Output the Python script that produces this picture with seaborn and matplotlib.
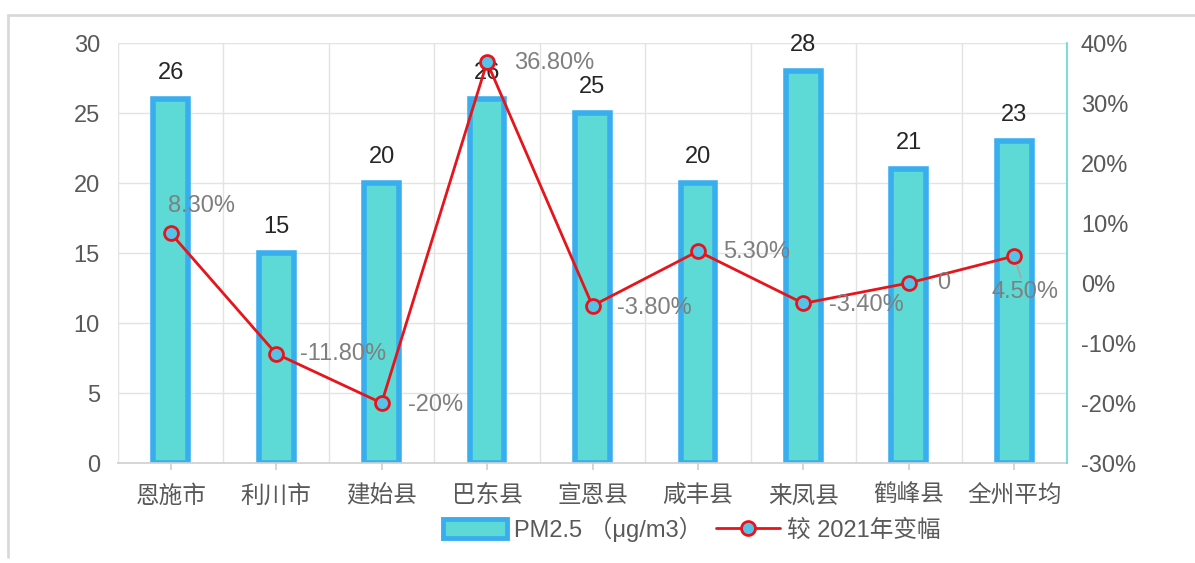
import numpy as np
import pandas as pd
import matplotlib
matplotlib.use("Agg")
import matplotlib.pyplot as plt
import seaborn as sns
from matplotlib.patches import Patch
from matplotlib.lines import Line2D

categories = ["恩施市", "利川市", "建始县", "巴东县", "宣恩县", "咸丰县", "来凤县", "鹤峰县", "全州平均"]
pm25 = [26, 15, 20, 26, 25, 20, 28, 21, 23]
change = [8.3, -11.8, -20, 36.8, -3.8, 5.3, -3.4, 0, 4.5]
change_labels = ["8.30%", "-11.80%", "-20%", "36.80%", "-3.80%", "5.30%", "-3.40%", "0", "4.50%"]
left_ticks = [0, 5, 10, 15, 20, 25, 30]
right_ticks = [-30, -20, -10, 0, 10, 20, 30, 40]

sns.set_theme(style="white")
plt.rcParams['font.family'] = ['Liberation Sans', 'Noto Sans CJK SC', 'DejaVu Sans']

FS = 17
fig = plt.figure(figsize=(11.95, 5.63), dpi=100)
ax = fig.add_axes([118/1195, 1-463/563, (1067-118)/1195, (463-43)/563])

df = pd.DataFrame({"cat": categories, "pm": pm25})
sns.barplot(data=df, x="cat", y="pm", ax=ax, color="#5DD9D6", edgecolor="#39AEEF",
            linewidth=4, width=0.33, saturation=1)
ax.set_ylim(0, 30)
ax.set_xlim(-0.5, len(categories) - 0.5)
ax.set_yticks(left_ticks)
ax.set_xlabel("")
ax.set_ylabel("")
for i, v in enumerate(pm25):
    ax.text(i, v + 1.1, str(v), ha="center", va="bottom", fontsize=FS, color="#262626")

# grid
ax.set_axisbelow(True)
for y in left_ticks[1:]:
    ax.axhline(y, color="#E3E3E3", lw=1, zorder=0)
for x in np.arange(-0.5, len(categories) + 0.5, 1):
    ax.axvline(x, color="#E3E3E3", lw=1, zorder=0)

for s in ["top", "right", "left"]:
    ax.spines[s].set_visible(False)
ax.spines["bottom"].set_color("#D0D0D0")
ax.tick_params(axis="x", length=5, color="#D0D0D0", labelsize=FS, labelcolor="#595959", pad=11, bottom=True)
ax.tick_params(axis="y", length=0, labelsize=FS, labelcolor="#595959", pad=13)

ax2 = ax.twinx()
sns.lineplot(x=np.arange(len(change)), y=change, ax=ax2, color="#E8141B", lw=2,
             marker="o", markersize=10, markerfacecolor="#55C3E8", markeredgecolor="#E8141B",
             markeredgewidth=2)
ax2.set_ylim(-30, 40)
ax2.set_yticks(right_ticks)
ax2.set_yticklabels([f"{t}%" for t in right_ticks])
ax2.tick_params(axis="y", length=0, labelsize=FS, labelcolor="#595959", pad=10)
for s in ["top", "left", "bottom"]:
    ax2.spines[s].set_visible(False)
ax2.spines["right"].set_color("#5DD9D6")
ax2.spines["right"].set_linewidth(1.2)
ax2.grid(False)

offsets = [(-3, 27, "left"), (24, 0, "left"), (26, -2, "left"), (27, -1, "left"),
           (25, -2, "left"), (25, -1, "left"), (26, -2, "left"), (28, 0, "left"), (11, -36, "center")]
for i, (v, lab) in enumerate(zip(change, change_labels)):
    dx, dy, ha = offsets[i]
    if i == len(change) - 1:
        ax2.annotate(lab, (i, v), xytext=(dx, dy), textcoords="offset pixels", ha=ha, va="center",
                     fontsize=FS, color="#7F7F7F",
                     arrowprops=dict(arrowstyle="-", color="#A6A6A6", lw=1.2, shrinkA=0, shrinkB=7))
    else:
        ax2.annotate(lab, (i, v), xytext=(dx, dy), textcoords="offset pixels", ha=ha, va="center",
                     fontsize=FS, color="#7F7F7F")

handles = [Patch(facecolor="#5DD9D6", edgecolor="#39AEEF", linewidth=3.5),
           Line2D([0], [0], color="#E8141B", lw=2, marker="o", markersize=10,
                  markerfacecolor="#55C3E8", markeredgecolor="#E8141B", markeredgewidth=2)]
leg = fig.legend(handles, ["PM2.5 （μg/m3）", "较 2021年变幅"], loc="center",
                 bbox_to_anchor=(0.579, 1-529/563), ncol=2, frameon=False, fontsize=FS,
                 handlelength=2.7, handleheight=0.9, columnspacing=0.6, handletextpad=0.3)
for t in leg.get_texts():
    t.set_color("#595959")

# outer frame
fig.add_artist(Line2D([8/1195, 1], [1-15/563, 1-15/563], color="#D9D9D9", lw=2))
fig.add_artist(Line2D([8/1195, 8/1195], [1-15/563, 0.01], color="#D9D9D9", lw=2))

fig.savefig("out.png", dpi=100)
